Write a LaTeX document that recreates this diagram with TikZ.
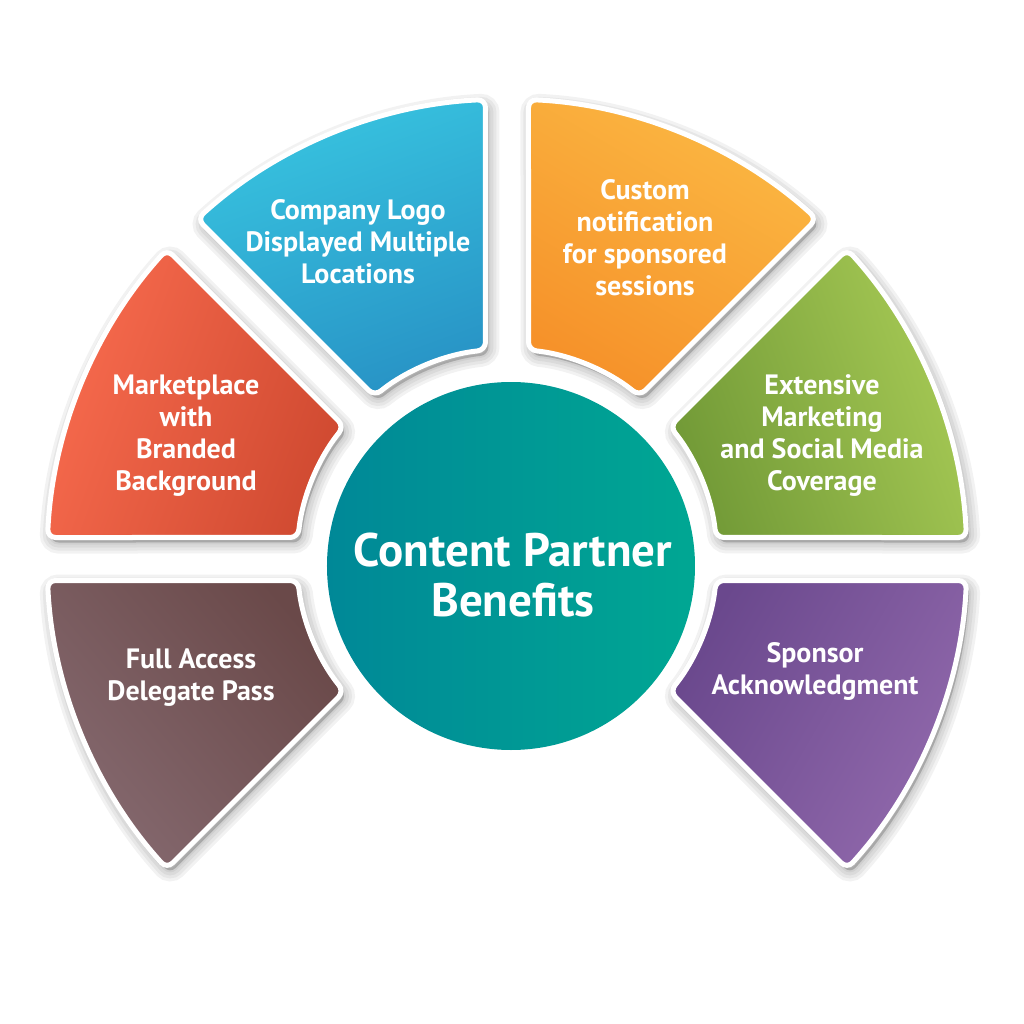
\documentclass[tikz,border=0pt]{standalone}
\usepackage{fontspec}
\setmainfont{PT Sans}
\usepackage{xcolor}
\usepackage{tikz}
\definecolor{redL}{HTML}{F86B4E}
\definecolor{redD}{HTML}{D04A31}
\definecolor{blueL}{HTML}{38C4E0}
\definecolor{blueD}{HTML}{2894C6}
\definecolor{orangeL}{HTML}{FBB843}
\definecolor{orangeD}{HTML}{F6922A}
\definecolor{greenL}{HTML}{A7CA55}
\definecolor{greenD}{HTML}{729A37}
\definecolor{purpleL}{HTML}{9169AC}
\definecolor{purpleD}{HTML}{6A488D}
\definecolor{brownL}{HTML}{85696F}
\definecolor{brownD}{HTML}{6A4949}
\definecolor{tealL}{HTML}{00A793}
\definecolor{tealD}{HTML}{008897}
\usetikzlibrary{calc, positioning}

\tikzset{
  seglabel/.style={text=white, font=\bfseries\fontsize{14}{16}\selectfont, align=center},
  hublabel/.style={text=white, font=\bfseries\fontsize{23.5}{25}\selectfont, align=center},
  segborder/.style={draw=white, line width=2.5pt, rounded corners=4pt},
  segshadow/.style={draw=black, fill=black, opacity=0.05, line width=#1, rounded corners=4pt, shift={(3,-5)}},
}

\begin{document}
\begin{tikzpicture}[x=0.5pt, y=0.5pt]
    \useasboundingbox (-507,-465) rectangle (517,559);
    \def\Ro{460}
    \def\Ri{210}
    \def\dR{2.68}
    \def\dr{5.88}

    % Six ring segments
    \foreach \a/\b/\cl/\cd/\sa in {180/225/brownD/brownL/-50, 135/180/redL/redD/70, 90/135/blueL/blueD/20, 45/90/orangeL/orangeD/-30, 0/45/greenL/greenD/-70, -45/0/purpleD/purpleL/60}{
        \foreach \w in {11pt,8pt,5pt,2pt}
            \path[segshadow=\w] (\a+\dR:\Ro) arc[start angle=\a+\dR, end angle=\b-\dR, radius=\Ro] -- (\b-\dr:\Ri) arc[start angle=\b-\dr, end angle=\a+\dr, radius=\Ri] -- cycle;
        \path[segborder, top color=\cl, bottom color=\cd, shading angle=\sa] (\a+\dR:\Ro) arc[start angle=\a+\dR, end angle=\b-\dR, radius=\Ro] -- (\b-\dr:\Ri) arc[start angle=\b-\dr, end angle=\a+\dr, radius=\Ri] -- cycle;
    }

    % Central circle
    \node[circle, minimum size=184pt, inner sep=0pt, top color=tealL, bottom color=tealD, shading angle=-90] (hub) at (4,-7) {};
    \node[hublabel] (hubtext) at ($(hub.center)+(2,-9)$) {Content Partner\\Benefits};

    % Labels
    \node[seglabel] (logo) at (-149,317) {Company Logo\\Displayed Multiple\\Locations};
    \node[seglabel] (market) at (-321,123) {Marketplace\\with\\Branded\\Background};
    \node[seglabel] (notify) at (138,321) {Custom\\notification\\for sponsored\\sessions};
    \node[seglabel] (media) at (315,123) {Extensive\\Marketing\\and Social Media\\Coverage};
    \node[seglabel] (sponsor) at (308,-112) {Sponsor\\Acknowledgment};
    \node[seglabel] (pass) at (-316,-119) {Full Access\\Delegate Pass};
\end{tikzpicture}
\end{document}
